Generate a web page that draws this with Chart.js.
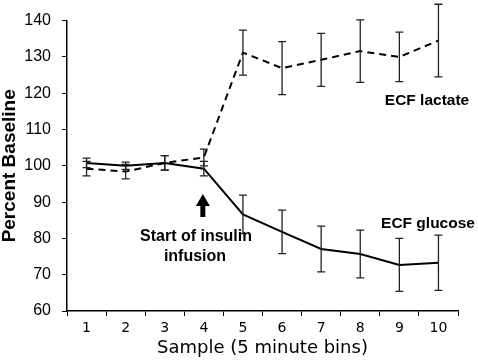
<!DOCTYPE html>
<html>
<head>
<meta charset="utf-8">
<script src="https://cdn.jsdelivr.net/npm/chart.js@4.4.1/dist/chart.umd.min.js"></script>
<style>
  html, body { margin: 0; padding: 0; background: #fff; }
  #wrap { width: 478px; height: 361px; }
</style>
</head>
<body>
<div id="wrap"><canvas id="chart" width="478" height="361"></canvas></div>
<script>
// --- DATA ---
const samples = ['1', '2', '3', '4', '5', '6', '7', '8', '9', '10'];
const glucose = [100.8, 100.0, 100.8, 99.2, 86.6, 81.8, 77.1, 75.7, 72.7, 73.3];
const glucoseErr = [1.3, 1.0, 2.0, 2.0, 5.3, 6.0, 6.3, 6.6, 7.3, 7.6];
const lactate = [99.2, 98.4, 100.8, 102.3, 131.2, 126.9, 129.2, 131.6, 130.0, 134.5];
const lactateErr = [2.0, 2.0, 2.0, 2.3, 6.2, 7.3, 7.3, 8.6, 6.8, 10.0];

const sansBold = "'Liberation Sans', Arial, sans-serif";
const sansTick = "'DejaVu Sans', Verdana, sans-serif";

// error bars, drawn from the scales
const errorBars = {
    id: 'errorBars',
    afterDatasetsDraw(chart) {
        const ctx = chart.ctx;
        const x = chart.scales.x;
        const y = chart.scales.y;
        const sets = [[glucose, glucoseErr], [lactate, lactateErr]];
        ctx.save();
        ctx.strokeStyle = '#222';
        ctx.lineWidth = 1.3;
        sets.forEach(([vals, errs]) => {
            vals.forEach((v, i) => {
                const px = x.getPixelForValue(i);
                const top = y.getPixelForValue(v + errs[i]);
                const bot = y.getPixelForValue(v - errs[i]);
                ctx.beginPath();
                ctx.moveTo(px, top); ctx.lineTo(px, bot);
                ctx.moveTo(px - 4, top); ctx.lineTo(px + 4, top);
                ctx.moveTo(px - 4, bot); ctx.lineTo(px + 4, bot);
                ctx.stroke();
            });
        });
        ctx.restore();
    }
};

// labels and the insulin arrow
const notes = {
    id: 'notes',
    afterDraw(chart) {
        const ctx = chart.ctx;
        const ax = chart.scales.x.getPixelForValue(3) - 1;
        ctx.save();
        ctx.fillStyle = '#000';
        ctx.textAlign = 'center';
        ctx.textBaseline = 'middle';
        ctx.font = 'bold 15.5px ' + sansBold;
        ctx.fillText('ECF lactate', 427, 101);
        ctx.fillText('ECF glucose', 428, 224);
        ctx.font = 'bold 16px ' + sansBold;
        ctx.fillText('Start of insulin', 196, 237);
        ctx.fillText('infusion', 195, 257);

        // arrow
        ctx.beginPath();
        ctx.moveTo(ax, 194);
        ctx.lineTo(ax + 7, 206);
        ctx.lineTo(ax + 2.5, 206);
        ctx.lineTo(ax + 2.5, 217);
        ctx.lineTo(ax - 2.5, 217);
        ctx.lineTo(ax - 2.5, 206);
        ctx.lineTo(ax - 7, 206);
        ctx.closePath();
        ctx.fill();
        ctx.restore();
    }
};

new Chart(document.getElementById('chart'), {
    type: 'line',
    data: {
        labels: samples,
        datasets: [
            {
                label: 'ECF glucose',
                data: glucose,
                borderColor: '#000',
                borderWidth: 2,
                pointRadius: 0,
                tension: 0
            },
            {
                label: 'ECF lactate',
                data: lactate,
                borderColor: '#000',
                borderWidth: 2,
                borderDash: [7, 5],
                pointRadius: 0,
                tension: 0
            }
        ]
    },
    options: {
        responsive: false,
        animation: false,
        layout: { padding: { top: -2, right: 20, left: 0, bottom: 0 } },
        plugins: {
            legend: { display: false },
            tooltip: { enabled: false }
        },
        scales: {
            x: {
                offset: true,
                afterFit: (s) => { s.height = 50; },
                grid: { drawOnChartArea: false, tickLength: 5, color: '#000', offset: true },
                border: { color: '#000', width: 1.5 },
                ticks: { color: '#000', font: { family: sansTick, size: 14 }, padding: 4, maxRotation: 0 },
                title: {
                    display: true,
                    text: 'Sample (5 minute bins)',
                    color: '#000',
                    font: { family: sansTick, size: 18 },
                    padding: { top: 2, bottom: 2 }
                }
            },
            y: {
                min: 60,
                max: 140,
                afterFit: (s) => { s.width = 67; },
                ticks: { stepSize: 10, color: '#000', font: { family: sansBold, size: 16 }, padding: 11 },
                grid: { drawOnChartArea: false, tickLength: 5, color: '#000' },
                border: { color: '#000', width: 1.5 },
                title: {
                    display: true,
                    text: 'Percent Baseline',
                    color: '#000',
                    font: { family: sansBold, size: 19, weight: 'bold', lineHeight: 1 },
                    padding: { top: 0, bottom: 0 }
                }
            }
        }
    },
    plugins: [errorBars, notes]
});
</script>
</body>
</html>
